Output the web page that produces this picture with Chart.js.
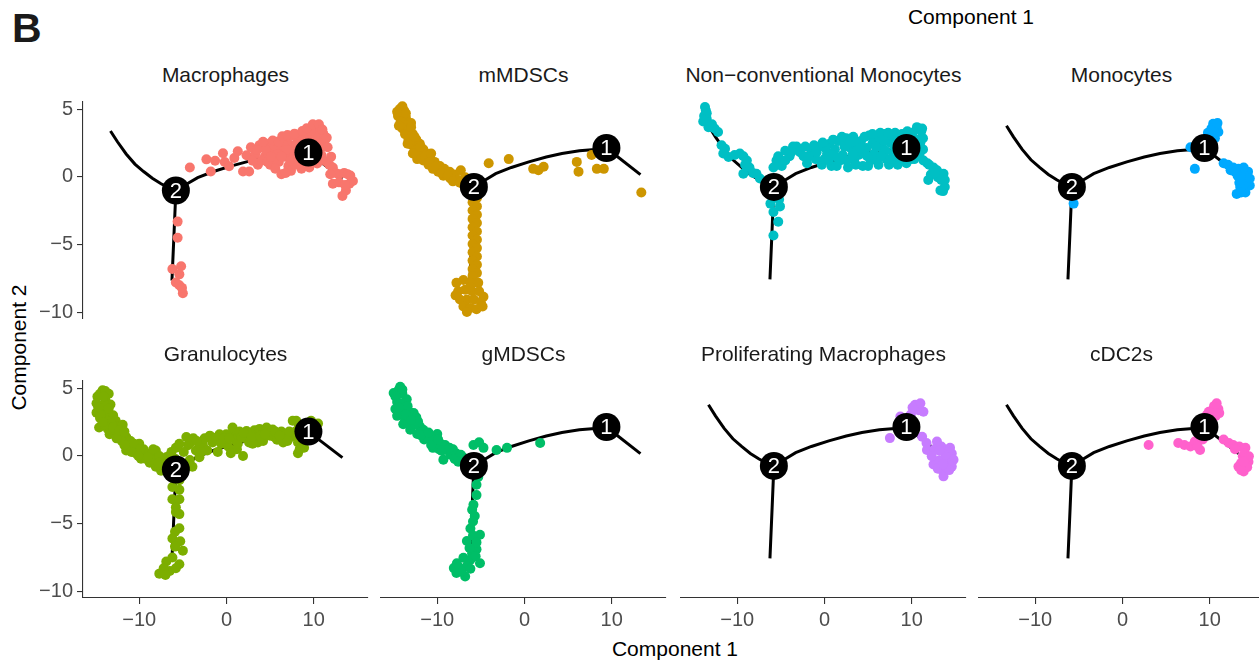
<!DOCTYPE html>
<html>
<head>
<meta charset="utf-8">
<script src="https://cdn.jsdelivr.net/npm/chart.js"></script>
<style>
  body { margin: 0; width: 1259px; height: 662px; overflow: hidden; background: #fff; position: relative;
         font-family: 'Liberation Sans', Arial, sans-serif; }
  canvas { position: absolute; }
  .txt { position: absolute; line-height: 1; white-space: nowrap; }
  .strip { width: 285px; text-align: center; font-size: 21px; color: #1a1a1a; }
  .axtitle { font-size: 21px; color: #000; width: 300px; text-align: center; }
</style>
</head>
<body>
<div class="txt" style="left:12px; top:8px; font-size:41px; font-weight:bold; color:#1a1a1a;">B</div>
<div class="txt axtitle" style="left:821px; top:6px;">Component 1</div>
<div class="txt axtitle" style="left:525px; top:638px;">Component 1</div>
<div class="txt axtitle" style="left:-132px; top:337px; transform: rotate(-90deg);">Component 2</div>

<script>
// facet names and ggplot hue colours
const panelNames = ['Macrophages', 'mMDSCs', 'Non\u2212conventional Monocytes', 'Monocytes',
                    'Granulocytes', 'gMDSCs', 'Proliferating Macrophages', 'cDC2s'];
const panelColors = ['#F8766D', '#CD9600', '#00BFC4', '#00A9FF', '#7CAE00', '#00BE67', '#C77CFF', '#FF61CC'];

const xTicks = [-10, 0, 10];
const yTicks = [-10, -5, 0, 5];

// trajectory (same in every panel)
const trajA = [[-13.3,3.4],[-12.5,2.6],[-11.5,1.7],[-10.5,0.95],[-9.5,0.4],[-8.5,-0.1],[-7.5,-0.5],[-6.6,-0.8],[-5.8,-1.0]];
const trajB = [[-5.8,-1.0],[-4.5,-0.5],[-3.3,-0.05],[-1.5,0.4],[0.5,0.8],[2.5,1.15],[4.3,1.4],[6.3,1.6],[8.1,1.7],[9.4,1.8]];
const trajC = [[9.4,1.8],[13.3,-0.12]];
const trajD = [[-5.8,-1.0],[-6.0,-4.0],[-6.25,-7.65]];
const branchPoints = [[9.4,1.8],[-5.8,-1.0]];
const branchLabels = ['1', '2'];

// cells, [Component 1, Component 2]
const macrophages = [[-4.2,0.7],[-2.3,1.3],[-1.8,0.4],[-1.3,1.2],[-0.4,1.75],[-0.2,1.1],[0.3,0.8],[0.9,1.4],[1.3,1.9],[1.9,0.4],
  [2.6,0.4],[2.3,1.6],[2.8,2.2],[3.3,1.7],[3.6,0.9],[3.8,2.35],[4.4,1.5],[4.9,2.45],[5.2,1.9],[5.6,1.3],[5.7,2.6],[6.3,0.2],
  [6.2,2.1],[6.8,2.8],[6.6,1.5],[7.1,0.8],[7.2,2.4],[7.6,3.05],[7.4,0.45],[7.8,1.8],[8.2,2.7],[8.4,1.15],[8.5,3.0],[8.9,2.2],
  [9.0,0.9],[9.4,3.1],[9.8,2.6],[10.3,3.7],[10.0,1.3],[10.7,2.8],[10.5,3.3],[11.2,2.6],[10.9,1.6],[11.4,1.15],[11.8,0.9],
  [12.2,0.7],[12.5,0.3],[12.9,0.2],[13.5,0.3],[13.9,0.2],[14.1,-0.5],[14.5,-0.3],[13.7,-1.0],[13.3,-1.4],[12.2,-0.5],
  [12.9,-0.4],[13.6,-0.6],[14.2,0.1],[11.9,0.2],[4.0,1.2],[4.5,2.0],[5.0,0.9],[5.5,2.3],[6.0,1.1],[6.5,2.4],[7.0,1.6],
  [7.5,2.0],[8.0,1.4],[8.0,2.4],[8.6,1.8],[9.2,1.5],[9.6,2.0],[10.2,2.2],[10.4,1.0],[10.8,2.1],[9.0,2.7],[7.9,0.9],
  [6.9,2.0],[5.9,1.7],[4.7,1.1],[3.0,1.2],[11.1,3.2],[10.1,3.0],[9.7,3.4],
  [3.5,2.0],[4.2,2.6],[5.3,2.7],[6.0,2.6],[6.4,3.0],[7.0,3.1],[7.8,3.2],[8.7,3.4],[9.2,3.6],[9.9,3.9],[10.6,3.9],[11.0,3.5],
  [11.5,2.9],[11.6,2.2],[12.0,1.5],[5.6,0.6],[6.8,0.3],[8.6,0.6],[9.5,0.7],[10.5,1.6],[9.3,2.3],[8.2,2.0],[7.3,1.2],[6.3,1.5],[5.1,1.5],
  [-5.6,-3.3],[-5.6,-4.5],[-6.2,-6.8],[-5.2,-6.6],[-5.4,-7.2],[-5.4,-8.0],[-5.0,-8.6],[-5.8,-7.8],[-5.1,-8.2]];

const mMDSCs = [[-14.3,4.6],[-13.8,4.5],[-14.5,4.1],[-13.6,4.0],[-14.2,3.7],[-13.4,3.5],[-14.0,3.2],[-13.2,3.1],[-13.7,2.8],
  [-12.8,2.8],[-13.3,2.4],[-12.4,2.4],[-12.9,2.0],[-12.0,2.1],[-12.5,1.6],[-11.6,1.7],[-12.1,1.3],[-11.2,1.4],[-11.6,0.9],
  [-10.8,1.1],[-11.0,0.6],[-10.3,0.8],[-10.5,0.3],[-9.7,0.5],[-9.9,0.1],[-9.2,0.3],[-9.3,-0.2],[-8.6,0.1],[-8.5,-0.4],
  [-8.0,-0.1],[-7.6,-0.5],[-7.3,0.2],[-7.0,-0.8],[-6.8,-0.3],[-6.4,-0.9],[-13.0,3.6],
  [-14.0,4.8],[-14.6,4.4],[-13.6,4.3],[-14.4,3.4],[-13.0,3.3],[-12.6,2.6],[-13.4,2.1],[-11.9,1.9],[-12.3,1.0],[-11.4,1.2],
  [-10.9,0.8],[-10.1,0.5],[-9.5,0.0],[-8.8,-0.2],[-8.2,-0.6],[-7.4,-0.7],[-6.6,-0.6],[-10.7,1.4],[-12.8,1.4],
  [-5.95,-1.6],[-5.45,-1.8],[-5.95,-2.1],[-5.45,-2.4],[-5.95,-2.7],[-5.45,-3.0],[-5.95,-3.3],[-5.45,-3.6],[-5.95,-3.9],
  [-5.45,-4.2],[-5.95,-4.5],[-5.45,-4.8],[-5.95,-5.1],[-5.45,-5.4],[-5.95,-5.7],[-5.45,-6.0],[-5.95,-6.3],[-5.45,-6.6],
  [-5.95,-6.9],[-5.45,-7.2],[-5.95,-7.4],
  [-7.8,-7.9],[-7.0,-7.7],[-6.2,-7.9],[-5.3,-7.9],[-7.6,-8.5],[-6.8,-8.4],[-6.0,-8.5],[-5.2,-8.5],[-4.7,-8.9],[-7.4,-9.1],
  [-6.6,-9.1],[-5.8,-9.1],[-5.0,-9.3],[-7.0,-9.6],[-6.2,-9.7],[-5.5,-9.8],[-6.6,-10.0],[-7.9,-8.8],[-4.8,-9.6],[-6.2,-8.2],
  [-4.1,0.7],[-1.8,1.0],[1.0,0.3],[2.2,0.45],[1.6,0.2],[6.0,0.8],[6.2,0.1],[7.7,1.3],[8.3,0.3],[9.1,0.3],[13.4,-1.4]];

const nonConvMonocytes = [[-13.7,4.75],[-13.5,4.3],[-13.5,3.9],[-13.9,3.7],[-12.9,3.5],[-12.2,2.95],[-11.4,1.75],[-11.0,1.15],
  [-11.6,1.4],[-9.7,1.4],[-9.3,1.2],[-8.9,0.9],[-9.3,-0.05],[-7.8,-0.05],[-8.6,0.4],[-13.8,4.1],
  [-13.6,4.5],[-13.3,3.3],[-12.6,3.2],[-11.8,2.0],[-10.3,1.3],[-9.1,0.6],[-8.2,0.0],[-7.4,-0.4],[-6.7,-0.6],
  [-5.85,0.4],[-5.5,0.9],[-4.5,1.6],[-3.2,1.9],[-6.2,-2.2],[-5.1,-2.4],[-5.85,-2.8],[-5.3,-3.5],[-5.85,-4.5],[-4.9,0.5],[-5.2,-1.9],
  [-3.6,1.9],[-2.8,1.5],[-4.0,1.2],[-4.5,0.9],[-3.8,1.5],[-5.3,1.2],
  [-2.4,1.2],[-2.0,0.7],[-1.5,1.6],[-1.0,1.0],[-0.6,1.9],[-0.3,0.6],[0.3,1.4],[0.6,2.1],[0.8,0.5],[1.2,1.7],[1.6,2.3],
  [1.8,0.9],[2.1,1.3],[2.5,2.5],[2.7,0.4],[3.0,1.8],[3.3,2.6],[3.4,0.9],[3.9,1.3],[4.2,2.3],[4.4,0.5],[4.8,1.8],[5.1,2.7],
  [5.3,0.9],[5.7,1.4],[6.0,2.4],[6.2,0.6],[6.6,1.8],[6.9,2.8],[7.1,1.0],[7.5,2.2],[7.9,1.4],[8.1,2.9],[8.4,0.6],[8.6,1.9],
  [9.0,1.1],[9.3,2.6],[9.7,1.5],[10.1,2.9],[10.4,1.9],[10.6,3.3],[10.8,2.4],[10.9,1.3],[11.1,3.0],
  [-1.8,1.2],[-0.9,1.5],[0.0,1.0],[0.1,1.8],[0.9,1.3],[1.4,0.5],[2.3,1.9],[2.5,0.9],[3.6,2.2],[3.7,1.6],[4.5,1.4],[4.6,2.6],
  [5.0,0.5],[5.5,2.1],[6.1,1.1],[6.4,2.9],[7.0,1.6],[7.4,0.6],[7.7,2.7],[8.0,1.9],[8.9,2.8],[9.4,0.7],[9.8,2.2],[10.3,1.0],
  [11.0,2.2],[11.3,1.7],
  [-2.2,1.9],[-1.2,2.0],[-0.2,2.2],[0.5,0.9],[1.0,2.4],[1.5,1.1],[2.0,2.6],[2.9,2.2],[3.2,1.3],[3.6,0.6],[4.1,1.8],[4.9,1.2],
  [5.5,2.8],[5.9,1.9],[6.5,1.2],[6.8,2.3],[7.3,2.9],[7.7,1.0],[8.3,2.4],[8.2,1.2],[8.8,1.5],[9.2,2.1],[9.5,3.0],[9.9,1.0],
  [10.2,2.5],[10.6,1.6],[11.3,2.5],[11.2,3.2],
  [11.35,0.9],[11.8,0.7],[12.5,0.4],[12.9,0.2],[13.65,-0.05],[11.9,-0.5],[13.3,-1.25],[13.8,-1.0],[13.4,-0.5],[12.2,-0.1],
  [12.0,0.6],[13.0,-0.3],[13.8,-0.5],[13.6,-1.3],[12.7,0.0]];

const monocytes = [[10.4,3.55],[10.8,3.3],[11.0,2.95],[10.5,3.0],[9.9,2.6],[10.6,2.5],[9.5,2.2],[7.8,1.85],[8.3,0.3],
  [11.6,0.7],[12.1,0.6],[12.7,0.4],[13.3,0.3],[13.9,0.2],[14.3,-0.4],[14.6,-0.9],[13.5,-1.0],[13.1,-1.5],[14.1,-1.4],
  [13.8,-0.5],[14.4,0.1],[13.2,-0.2],[-5.6,-2.2],
  [10.2,3.2],[10.9,3.6],[9.8,2.9],[12.4,0.2],[13.6,-0.2],[14.0,-0.8],[13.6,-1.4],[14.6,-0.4],[13.9,0.4],[12.9,0.1],[13.4,-0.7]];

const granulocytes = [[-14.2,4.85],[-13.5,4.6],[-14.8,4.4],[-13.9,4.2],[-14.9,3.9],[-13.3,3.8],[-14.3,3.5],[-14.9,3.2],
  [-13.6,3.2],[-13.0,3.0],[-14.5,2.8],[-13.8,2.6],[-12.7,2.6],[-14.6,2.1],[-13.6,2.0],[-12.4,2.2],[-13.4,1.6],[-11.9,2.3],
  [-12.2,1.7],[-11.5,1.4],[-12.0,1.1],[-11.0,1.1],[-11.5,0.4],[-10.8,0.6],[-10.0,0.9],[-10.4,0.2],[-9.5,0.5],[-9.2,0.2],
  [-9.8,-0.2],[-8.6,0.1],[-8.1,0.4],[-8.8,-0.5],[-8.1,-0.8],[-7.4,-0.4],[-6.9,-0.1],[-6.9,-1.0],[-7.5,-1.1],
  [-14.5,4.6],[-13.9,4.8],[-14.0,3.8],[-14.4,3.0],[-13.2,2.4],[-14.0,2.3],[-12.9,1.9],[-12.6,1.3],[-11.2,0.8],[-10.6,0.9],
  [-9.9,0.5],[-9.3,-0.2],[-8.4,-0.3],[-7.7,0.0],[-7.2,-0.8],[-6.5,-0.5],[-6.3,0.3],[-5.8,0.6],[-4.4,0.8],[-3.5,0.4],
  [-2.7,0.8],[-2.2,0.4],
  [-14.1,4.4],[-14.7,3.6],[-13.5,3.5],[-14.2,2.5],[-13.0,2.1],[-12.3,1.9],[-11.7,1.8],[-11.7,0.8],[-10.9,0.3],[-10.1,0.0],
  [-9.0,-0.1],[-8.4,0.5],[-7.8,-0.5],[-6.8,-0.8],[-6.6,0.0],[-5.9,-0.2],
  [-5.4,0.9],[-4.6,1.4],[-4.9,0.3],[-3.9,-0.8],[-3.1,0.9],[-3.1,-0.1],[-4.2,-0.3],[-3.8,1.3],[-2.5,1.3],
  [-4.1,1.0],[-3.4,1.1],[-2.9,0.3],[-1.6,1.0],[-0.8,1.6],[0.0,1.1],[0.9,1.7],[1.2,0.5],[2.2,1.3],[3.2,1.9],[3.6,1.0],
  [4.9,1.9],[5.5,1.4],[6.3,1.8],[6.6,1.3],[7.4,1.4],[8.0,2.6],[8.7,1.5],[9.7,2.6],[8.9,0.6],
  [-1.9,1.5],[-1.2,1.35],[-0.6,0.9],[-0.03,1.6],[0.2,0.7],[0.7,2.1],[1.0,1.2],[1.5,1.8],[1.9,0.0],[2.3,1.85],[2.6,1.0],
  [3.0,0.9],[3.4,1.5],[3.8,2.0],[4.2,1.1],[4.6,2.1],[5.0,1.5],[5.3,1.95],[5.8,1.2],[6.5,1.0],[6.8,1.4],[7.2,1.8],[7.6,2.6],
  [8.0,1.4],[8.2,0.2],[8.4,1.8],[10.5,2.4],[-1.0,0.3],[0.5,0.2],
  [-0.3,1.3],[0.3,1.3],[1.3,0.9],[1.7,1.4],[2.0,1.7],[2.9,1.4],[3.9,1.5],[4.4,1.6],[5.6,1.8],[6.1,1.5],[7.0,1.1],[7.9,1.8],
  [9.2,1.8],[9.8,2.3],[8.3,2.3],[8.2,1.0],[8.4,0.5],
  [-5.4,-1.8],[-5.4,-2.5],[-6.2,-2.3],[-6.2,-3.2],[-5.4,-3.2],[-5.8,-3.8],[-5.8,-4.15],[-5.4,-4.3],[-5.4,-5.35],[-5.9,-5.6],
  [-6.2,-6.1],[-5.3,-6.3],[-5.0,-7.0],[-5.9,-6.7],[-6.2,-7.5],[-5.4,-8.0],[-7.7,-8.7],[-6.9,-7.8],[-6.5,-8.5],[-7.2,-8.3],
  [-5.8,-8.3],[-7.0,-8.8]];

const gMDSCs = [[-14.25,4.7],[-15.0,4.25],[-14.0,4.2],[-13.5,3.8],[-14.6,3.6],[-14.8,3.1],[-13.8,3.1],[-14.6,2.6],[-13.2,2.9],
  [-12.7,2.8],[-13.7,2.3],[-12.8,2.2],[-12.0,1.85],[-13.1,1.6],[-11.6,1.6],[-12.3,1.3],[-11.3,1.3],[-10.8,0.9],[-11.5,0.9],
  [-10.0,1.3],[-10.2,0.6],[-9.6,0.6],[-8.9,0.15],[-9.3,-0.55],[-7.8,-0.1],[-8.5,-0.2],[-10.5,0.3],[-7.0,-0.4],
  [-14.4,4.5],[-14.8,4.0],[-14.2,3.5],[-13.4,3.3],[-14.2,2.8],[-13.3,2.5],[-12.4,2.5],[-12.9,1.9],[-12.0,1.4],[-11.2,1.0],
  [-10.4,0.9],[-9.8,0.2],[-9.1,0.5],[-8.2,0.2],[-8.0,-0.5],[-7.3,-0.2],[-6.8,-0.6],[-12.5,2.0],[-13.9,2.0],
  [-14.0,4.5],[-14.4,3.2],[-13.6,2.7],[-12.2,2.2],[-11.9,1.2],[-11.0,1.4],[-10.7,0.5],[-9.5,0.1],[-8.6,0.3],[-7.6,-0.7],
  [-9.9,0.9],[-13.0,2.3],
  [-5.85,0.5],[-4.7,0.3],[-3.2,0.15],[-2.0,0.3],[1.8,0.65],[-5.2,0.7],
  [-5.5,-2.35],[-5.5,-3.1],[-5.85,-3.8],[-6.0,-4.15],[-6.2,-5.5],[-5.1,-5.95],[-6.6,-6.4],[-5.9,-6.0],[-5.5,-7.0],
  [-6.2,-7.75],[-7.75,-8.0],[-8.1,-8.35],[-6.8,-8.95],[-5.1,-8.0],[-7.2,-8.6],[-6.0,-7.3],[-7.0,-7.6],[-5.5,-6.5],
  [-5.3,-1.8],[-5.7,-4.6],[-5.9,-5.0],[-6.3,-6.9],[-5.6,-7.5],[-6.6,-8.2],[-7.5,-8.3],[-6.2,-8.4],[-7.8,-8.7]];

const prolifMacrophages = [[10.4,3.4],[11.35,2.9],[10.8,3.0],[8.7,2.55],[9.9,2.7],[7.5,1.0],[11.2,1.1],[11.7,0.65],
  [11.75,0.15],[12.9,0.75],[12.6,0.2],[13.4,0.4],[14.0,0.15],[14.6,-0.1],[14.8,-0.55],[12.5,-0.9],[13.2,-0.6],
  [13.65,-1.75],[13.5,-1.3],[14.6,-1.05],[14.2,-0.8],[13.0,-1.2],[14.0,-0.4],
  [10.6,3.1],[11.0,3.5],[10.1,3.2],[13.9,-0.2],[14.3,-1.3],[13.9,-1.1],[13.2,0.1],[12.3,-0.3],[14.4,0.3],[13.6,-0.9]];

const cDC2s = [[10.8,3.5],[11.0,3.1],[10.3,3.0],[9.7,2.7],[10.7,2.6],[3.0,0.5],[6.4,0.65],[7.1,0.5],[7.8,0.4],[8.9,0.15],
  [8.3,0.75],[9.2,0.9],[11.6,0.9],[12.2,0.65],[12.7,0.5],[13.4,0.4],[14.1,0.3],[14.3,-0.45],[13.3,-1.05],[14.45,-0.7],
  [13.9,-1.4],[13.8,-0.3],[13.6,-0.8],
  [10.5,3.3],[11.1,2.8],[9.9,2.9],[8.6,0.4],[14.0,-0.1],[14.3,-1.1],[13.6,-1.3],[12.9,0.2],[14.5,-0.3],[13.9,-0.7]];

const cellData = [macrophages, mMDSCs, nonConvMonocytes, monocytes, granulocytes, gMDSCs, prolifMacrophages, cDC2s];

// layout of the facets (pixels)
const panelLefts = [83, 381, 681, 979];
const panelTops = [96, 375];
const PW = 285, PH = 223, ML = 70, MT = 10, MR = 10, MB = 45;
const xMin = -16.45, xMax = 16.23, yMin = -10.5, yMax = 5.54;

Chart.defaults.font.family = "'Liberation Sans', Arial, sans-serif";

const toXY = arr => arr.map(p => ({ x: p[0], y: p[1] }));
const minus = v => String(v).replace('-', '\u2212');

const branchText = {
  id: 'branchText',
  afterDatasetsDraw(chart) {
    const ctx = chart.ctx, xs = chart.scales.x, ys = chart.scales.y;
    ctx.save();
    ctx.fillStyle = '#fff';
    ctx.font = "22px 'Liberation Sans', Arial, sans-serif";
    ctx.textAlign = 'center';
    ctx.textBaseline = 'middle';
    branchPoints.forEach((p, k) => {
      ctx.fillText(branchLabels[k], xs.getPixelForValue(p[0]), ys.getPixelForValue(p[1]) + 1);
    });
    ctx.restore();
  }
};

function axisStyle(show, ticks, isX) {
  return {
    type: 'linear',
    display: show,
    min: isX ? xMin : yMin,
    max: isX ? xMax : yMax,
    afterBuildTicks: s => { s.ticks = ticks.map(v => ({ value: v })); },
    afterFit: s => {
      if (!show) return;
      if (isX) s.height = MB; else s.width = ML;
    },
    grid: { display: true, drawOnChartArea: false, drawTicks: true, tickLength: 6, color: '#333', lineWidth: 1.1 },
    border: { display: true, color: '#333', width: 1.1 },
    ticks: { color: '#4d4d4d', font: { size: 20 }, padding: 4, maxRotation: 0, callback: v => minus(v) }
  };
}

panelNames.forEach((name, i) => {
  const col = i % 4, row = Math.floor(i / 4);
  const showY = col === 0, showX = row === 1;

  const strip = document.createElement('div');
  strip.className = 'txt strip';
  strip.textContent = name;
  strip.style.left = panelLefts[col] + 'px';
  strip.style.top = (row === 0 ? 64 : 343) + 'px';
  document.body.appendChild(strip);

  const cv = document.createElement('canvas');
  cv.width = ML + PW + MR;
  cv.height = MT + PH + MB;
  cv.style.left = (panelLefts[col] - ML) + 'px';
  cv.style.top = (panelTops[row] - MT) + 'px';
  document.body.appendChild(cv);

  const lines = [trajA, trajB, trajC, trajD].map(t => ({
    data: toXY(t), showLine: true, pointRadius: 0, borderColor: '#000', borderWidth: 3, fill: false, clip: false
  }));

  new Chart(cv, {
    type: 'scatter',
    data: {
      datasets: [
        { data: toXY(branchPoints), pointRadius: 14, backgroundColor: '#000', borderWidth: 0, clip: false },
        { data: toXY(cellData[i]), pointRadius: 5, backgroundColor: panelColors[i], borderWidth: 0, clip: false },
        ...lines
      ]
    },
    options: {
      responsive: false,
      animation: false,
      events: [],
      layout: { autoPadding: false, padding: { left: showY ? 0 : ML, right: MR, top: MT, bottom: showX ? 0 : MB } },
      plugins: { legend: { display: false }, tooltip: { enabled: false } },
      scales: {
        x: axisStyle(showX, xTicks, true),
        y: axisStyle(showY, yTicks, false)
      }
    },
    plugins: [branchText]
  });
});
</script>
</body>
</html>
